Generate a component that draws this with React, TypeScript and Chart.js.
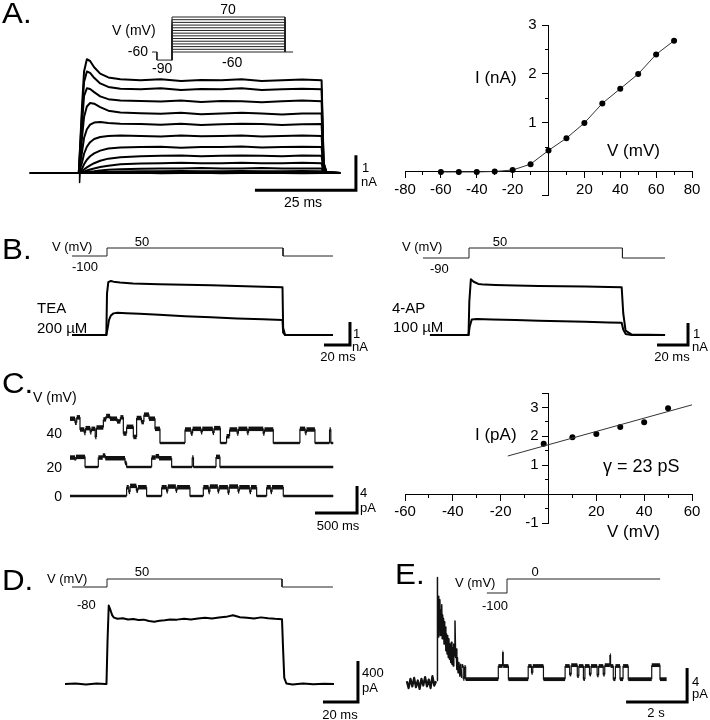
import React, { useEffect, useRef } from "react";
import { Chart, registerables } from "chart.js";

Chart.register(...registerables);
const FONT = "'Liberation Sans', Arial, Helvetica, sans-serif";
Chart.defaults.font.family = FONT;

// ======================= DATA =======================
// --- Panel A (left): current family, time (ms) vs current (nA), steps -60..70 mV
const A_T = [-12.4, -0.3, 0.5, 1, 1.7, 2.5, 3.5, 5, 7, 10, 15, 20, 25, 30, 35, 40, 45, 50, 55, 59.8, 60.3, 61, 64.4];
const A_I70 = [0, 0, 1.9, 2.9, 3.25, 3.2, 3.02, 2.84, 2.73, 2.68, 2.65, 2.68, 2.63, 2.66, 2.65, 2.68, 2.63, 2.65, 2.67, 2.65, 0.3, 0.03, 0];
const A_I60 = [0, 0, 1.7, 2.6, 2.9, 2.86, 2.72, 2.56, 2.46, 2.41, 2.39, 2.42, 2.37, 2.4, 2.39, 2.42, 2.37, 2.39, 2.41, 2.39, 0.28, 0.03, 0];
const A_I50 = [0, 0, 1.4, 2.2, 2.42, 2.4, 2.31, 2.19, 2.11, 2.07, 2.06, 2.04, 2.07, 2.03, 2.06, 2.05, 2.02, 2.05, 2.07, 2.05, 0.25, 0.02, 0];
const A_I40 = [0, 0, 1.0, 1.6, 1.9, 2.0, 1.98, 1.88, 1.78, 1.73, 1.71, 1.69, 1.72, 1.68, 1.7, 1.72, 1.7, 1.67, 1.7, 1.7, 0.2, 0.02, 0];
const A_I30 = [0, 0, 0.6, 1.0, 1.25, 1.38, 1.44, 1.46, 1.43, 1.41, 1.4, 1.38, 1.41, 1.37, 1.39, 1.41, 1.4, 1.37, 1.39, 1.4, 0.15, 0.02, 0];
const A_I20 = [0, 0, 0.3, 0.55, 0.75, 0.88, 0.97, 1.03, 1.06, 1.07, 1.06, 1.04, 1.07, 1.05, 1.06, 1.07, 1.04, 1.06, 1.07, 1.06, 0.1, 0.01, 0];
const A_I10 = [0, 0, 0.12, 0.25, 0.38, 0.48, 0.56, 0.64, 0.7, 0.73, 0.74, 0.75, 0.72, 0.74, 0.74, 0.76, 0.73, 0.74, 0.75, 0.74, 0.08, 0.01, 0];
const A_I0 = [0, 0, 0.05, 0.1, 0.16, 0.22, 0.28, 0.35, 0.41, 0.45, 0.48, 0.49, 0.5, 0.48, 0.49, 0.5, 0.49, 0.48, 0.5, 0.49, 0.05, 0, 0];
const A_IM10 = [0, 0, 0.02, 0.04, 0.07, 0.1, 0.13, 0.17, 0.21, 0.25, 0.27, 0.28, 0.29, 0.28, 0.28, 0.29, 0.28, 0.28, 0.29, 0.28, 0.03, 0, 0];
const A_IM20 = [0, 0, 0.01, 0.02, 0.03, 0.04, 0.05, 0.07, 0.09, 0.11, 0.12, 0.13, 0.13, 0.14, 0.13, 0.13, 0.14, 0.13, 0.13, 0.13, 0.02, 0, 0];
const A_IM30 = [0, 0, 0, 0.01, 0.01, 0.02, 0.02, 0.03, 0.03, 0.04, 0.05, 0.05, 0.06, 0.05, 0.05, 0.06, 0.05, 0.05, 0.06, 0.05, 0.01, 0, 0];
const A_IM40 = [0, 0, 0, 0, 0, 0, 0, 0.01, 0.01, 0.01, 0.02, 0.02, 0.02, 0.03, 0.02, 0.02, 0.02, 0.03, 0.02, 0.02, 0, 0, 0];
const A_IM50 = [0, 0, 0, 0, 0, 0, 0, 0, 0, 0, 0.01, -0.01, 0, 0.01, -0.01, 0, 0.01, 0, -0.01, 0, 0, 0, 0];
const A_TRACES = [A_I70, A_I60, A_I50, A_I40, A_I30, A_I20, A_I10, A_I0, A_IM10, A_IM20, A_IM30, A_IM40, A_IM50];
const A_ART_T = [-0.1, -0.1, 0.1];
const A_ART_I = [0, -0.27, 0.17];
// Panel A voltage protocol (ms, mV)
const A_STEP_MV = [-60, -50, -40, -30, -20, -10, 0, 10, 20, 30, 40, 50, 60, 70];
const A_PRE_T = [-10.6, -8, -8, 0];
const A_PRE_V = [-60, -60, -90, -90];
const A_STEP_MS = 60;
const A_PRE_MV = -90;
const A_HOLD_MV = -60;
const A_PROTO_END_MS = 64.3;

// --- Panel A (right): I-V relation (mV, nA)
const IVA_V = [-60, -50, -40, -30, -20, -10, 0, 10, 20, 30, 40, 50, 60, 70];
const IVA_I = [0, 0, 0, 0.01, 0.04, 0.16, 0.44, 0.69, 1.0, 1.4, 1.7, 2.0, 2.4, 2.68];

// --- Panel B (left): control and TEA 200 uM (ms, nA)
const B1_CTRL_T = [-26.9, -0.5, 0, 1, 3, 5, 10, 20, 40, 60, 80, 100, 120, 135, 135.5, 137, 150, 173.8];
const B1_CTRL_I = [0, 0, 1.8, 2.3, 2.35, 2.32, 2.28, 2.24, 2.21, 2.18, 2.16, 2.13, 2.1, 2.08, 0.3, 0, 0, 0];
const B1_TEA_T = [-26.9, -0.5, 0.5, 1.5, 3, 5, 8, 15, 25, 40, 60, 80, 100, 120, 135, 135.5, 137, 150, 173.8];
const B1_TEA_I = [0, 0, 0.3, 0.65, 0.85, 0.94, 0.97, 0.95, 0.92, 0.88, 0.82, 0.77, 0.72, 0.68, 0.65, 0.1, 0, 0, 0];
const B1_PROTO_T = [-26.9, 0, 0, 135.4, 135.4, 173.8];
const B1_PROTO_V = [-100, -100, 50, 50, -100, -100];

// --- Panel B (right): control and 4-AP 100 uM (ms, nA)
const B2_CTRL_T = [-25.2, -0.3, 0.2, 1.2, 3, 6, 10, 17, 30, 45, 60, 75, 90, 98.5, 99.5, 101, 105, 126.5];
const B2_CTRL_I = [0, 0, 1.5, 2.53, 2.42, 2.32, 2.29, 2.27, 2.25, 2.23, 2.22, 2.2, 2.18, 2.17, 1.0, 0.2, 0.02, 0];
const B2_AP_T = [-25.2, -0.3, 0.5, 1.8, 5, 15, 30, 45, 60, 75, 90, 98.5, 99.5, 101, 105, 126.5];
const B2_AP_I = [0, 0, 0.4, 0.71, 0.73, 0.71, 0.68, 0.65, 0.62, 0.6, 0.57, 0.56, 0.25, 0.05, 0, 0];
const B2_PROTO_T = [-29.7, 0, 0, 99, 99, 126.5];
const B2_PROTO_V = [-90, -90, 50, 50, -90, -90];

// --- Panel C (left): single-channel records, dwell starts (ms) and current level (pA)
const C40_T = [0, 60, 80, 119, 170, 185, 240, 255, 300, 315, 397, 430, 476, 560, 600, 635, 674, 754, 793, 850, 880, 940, 1012, 1071, 1369, 1440, 1460, 1560, 1575, 1700, 1715, 1790, 1864, 1900, 1990, 2005, 2110, 2125, 2300, 2315, 2420, 2737, 2800, 2815, 2916, 3090, 3105];
const C40_I = [3.6, 3.0, 3.8, 2.0, 1.5, 2.2, 1.6, 2.1, 0.9, 2.3, 3.5, 4.0, 3.6, 3.2, 3.8, 1.4, 2.4, 0.9, 3.7, 3.1, 4.2, 3.6, 2.1, 0, 2.0, 1.4, 2.1, 1.6, 2.1, 1.5, 2.2, 0, 1.0, 2.0, 1.4, 2.1, 1.5, 2.1, 1.4, 2.0, 0, 2.1, 1.5, 2.0, 0, 2.0, 0];
const C20_T = [0, 60, 70, 179, 337, 390, 420, 655, 674, 972, 1020, 1060, 1210, 1455, 1470, 1738, 1785];
const C20_I = [1.4, 1.0, 1.5, 0, 1.4, 1.7, 1.3, 0.6, 0, 1.4, 1.6, 1.3, 0, 1.4, 0, 1.5, 0];
const C0_T = [0, 674, 700, 715, 790, 810, 912, 1091, 1150, 1165, 1260, 1275, 1428, 1587, 1650, 1665, 1760, 1775, 1880, 1895, 2000, 2015, 2140, 2155, 2222, 2341, 2390, 2405, 2539];
const C0_I = [0, 1.3, 0.6, 1.5, 0.8, 1.3, 0, 1.3, 0.7, 1.4, 0.8, 1.3, 0, 1.3, 0.6, 1.4, 0.7, 1.3, 0.5, 1.4, 0.7, 1.3, 0.6, 1.3, 0, 1.3, 0.6, 1.3, 0];
const C_END_MS = 3134;

// --- Panel C (right): unitary I-V (mV, pA) and fit
const IVC_V = [-2, 10, 20, 30, 40, 50];
const IVC_I = [1.74, 1.97, 2.08, 2.32, 2.49, 2.97];
const IVC_FIT_V = [-17, 60];
const IVC_SLOPE = 0.023; // pA/mV  (23 pS)
const IVC_INTERCEPT = 1.71;

// --- Panel D: whole-cell current (ms, pA)
const D_T = [-24, -18, -12, -6, -1, -0.3, 0.3, 1, 2, 3, 4, 6, 9, 12, 15, 18, 21, 24, 27, 30, 33, 36, 40, 44, 48, 52, 56, 60, 64, 68, 72, 76, 80, 84, 88, 92, 96, 100, 100.6, 101.3, 102.5, 106, 112, 118, 124, 129.7];
const D_I = [0, 5, -5, 4, 0, 0, 420, 765, 720, 670, 648, 636, 642, 630, 634, 625, 628, 614, 608, 616, 622, 630, 628, 636, 630, 640, 646, 638, 648, 655, 670, 652, 646, 640, 650, 642, 636, 632, 350, 60, 5, -5, 4, -3, 3, 0];
const D_PROTO_T = [-20, 0, 0, 100, 100, 129.1];
const D_PROTO_V = [-80, -80, 50, 50, -80, -80];

// --- Panel E: cell-attached record (s, pA)
const E_PRE_T = [-0.99, -0.93, -0.87, -0.81, -0.75, -0.69, -0.63, -0.57, -0.51, -0.45, -0.39, -0.33, -0.27, -0.21, -0.15, -0.09, -0.03];
const E_PRE_I = [0.2, -0.6, 0.5, -0.4, 0.6, -0.5, 0.3, -0.7, 0.5, -0.3, 0.7, -0.4, 0.4, -0.6, 0.8, -0.3, 0.2];
const E_DECAY_T = [0, 0.01, 0.02, 0.035, 0.05, 0.065, 0.08, 0.095, 0.11, 0.125, 0.14, 0.155, 0.17, 0.185, 0.2, 0.215, 0.23, 0.245, 0.26, 0.275, 0.29, 0.31, 0.33, 0.35, 0.37, 0.39, 0.41, 0.43, 0.45, 0.47, 0.49, 0.51, 0.53, 0.55, 0.57, 0.59, 0.61, 0.63, 0.65, 0.67, 0.69, 0.72, 0.75, 0.78, 0.81];
const E_DECAY_I = [0.3, 12.4, 6.0, 10.2, 5.4, 9.0, 6.2, 9.8, 5.6, 8.6, 6.4, 9.2, 5.2, 8.0, 5.8, 7.6, 4.6, 7.2, 5.0, 6.6, 3.8, 5.8, 3.4, 5.6, 3.0, 5.2, 2.8, 4.6, 2.4, 4.8, 2.2, 4.2, 2.0, 4.6, 3.2, 7.3, 3.0, 4.0, 1.6, 3.0, 1.2, 2.4, 0.8, 2.2, 0.6];
const E_SEG_T = [0.81, 0.86, 0.9, 0.94, 2.01, 2.15, 2.17, 2.34, 2.99, 3.1, 3.14, 3.49, 4.2, 4.35, 4.4, 4.6, 4.65, 4.8, 4.85, 5.0, 5.05, 5.25, 5.3, 5.45, 5.5, 5.67, 5.69, 5.78, 5.85, 6.0, 6.1, 6.27, 7.04, 7.31];
const E_SEG_I = [2.0, 0.5, 1.9, 0.45, 2.0, 3.6, 2.0, 0.45, 2.0, 1.2, 2.0, 0.45, 2.0, 1.0, 2.1, 0.8, 2.0, 0.45, 2.0, 1.0, 2.0, 0.9, 2.0, 1.0, 2.1, 3.3, 2.0, 0.45, 2.0, 0.45, 2.0, 0.45, 2.1, 0.45];
const E_END_S = 7.53;
const E_PROTO_T = [-0.66, 0, 0, 5.02];
const E_PROTO_V = [-100, -100, 0, 0];

// Scale bars (units)
const SB_A = { x: 25, y: 1 };
const SB_B1 = { x: 20, y: 1 };
const SB_B2 = { x: 20, y: 1 };
const SB_C = { x: 500, y: 4 };
const SB_D = { x: 20, y: 400 };
const SB_E = { x: 2, y: 4 };

// ======================= LAYOUT =======================
type Ax = { px: number; v: number; ppu: number };
type Geo = { left: number; top: number; w: number; h: number; axes: Record<string, Ax> };

const G_A: Geo = { left: 0, top: 0, w: 380, h: 215, axes: { x: { px: 80, v: 0, ppu: 4.04 }, y: { px: 173, v: 0, ppu: 35 }, xp: { px: 172, v: 0, ppu: 1.883 }, yv: { px: 52, v: -60, ppu: 0.2692 } } };
const G_B1: Geo = { left: 0, top: 220, w: 360, h: 145, axes: { x: { px: 107, v: 0, ppu: 1.3 }, y: { px: 115, v: 0, ppu: 23 }, yv: { px: 36, v: -100, ppu: 0.0533 } } };
const G_B2: Geo = { left: 355, top: 220, w: 355, h: 145, axes: { x: { px: 114, v: 0, ppu: 1.55 }, y: { px: 115, v: 0, ppu: 22 }, yv: { px: 38, v: -90, ppu: 0.0714 } } };
const G_C: Geo = { left: 0, top: 365, w: 380, h: 170, axes: { x: { px: 70, v: 0, ppu: 0.084 }, y40: { px: 78, v: 0, ppu: 6.75 }, y20: { px: 102, v: 0, ppu: 6.75 }, y0: { px: 131, v: 0, ppu: 6.75 } } };
const G_D: Geo = { left: 0, top: 540, w: 380, h: 180, axes: { x: { px: 107, v: 0, ppu: 1.75 }, y: { px: 144, v: 0, ppu: 0.1025 }, yv: { px: 47, v: -80, ppu: 0.0615 } } };
const G_E: Geo = { left: 380, top: 540, w: 330, h: 180, axes: { x: { px: 57, v: 0, ppu: 30.5 }, xp: { px: 127, v: 0, ppu: 30.5 }, y: { px: 143, v: 0, ppu: 8.5 }, yv: { px: 53, v: -100, ppu: 0.14 } } };

// I-V panels: canvas box, padding around plot area, gap between y axis and its labels (px)
const IV_A_BOX = { left: 380, top: 0, w: 330, h: 215, pad: { left: 25, right: 18, top: 25, bottom: 20 }, labelGap: 12 };
const IV_C_BOX = { left: 380, top: 365, w: 330, h: 175, pad: { left: 25, right: 18, top: 28, bottom: 17 }, labelGap: 10 };

// scale-bar corners (data units of each panel)
const SBC_A = { x: 68.3, y: -0.49 };
const SBC_B1 = { x: 186.9, y: -0.435 };
const SBC_B2 = { x: 141.3, y: -0.455 };
const SBC_C = { x: 3417, y: -2.52 };
const SBC_D = { x: 143.4, y: -175.6 };
const SBC_E = { x: 8.2, y: -2.24 };

// ======================= HELPERS =======================
function scalesFor(g: Geo) {
  const sc: any = {};
  Object.keys(g.axes).forEach((k) => {
    const a = g.axes[k];
    const horiz = k.startsWith("x");
    const size = horiz ? g.w : g.h;
    const min = horiz ? a.v - a.px / a.ppu : a.v - (size - a.px) / a.ppu;
    const max = horiz ? a.v + (size - a.px) / a.ppu : a.v + a.px / a.ppu;
    sc[k] = { type: "linear", axis: horiz ? "x" : "y", min, max, display: false, bounds: "data" };
  });
  return sc;
}

function ds(xs: number[], ys: number[], xID: string, yID: string, style: any = {}) {
  return {
    data: xs.map((x, i) => ({ x, y: ys[i] })),
    xAxisID: xID,
    yAxisID: yID,
    borderColor: "#000",
    borderWidth: 1.5,
    pointRadius: 0,
    tension: 0,
    fill: false,
    borderJoinStyle: "round",
    ...style,
  };
}

function steps(starts: number[], levels: number[], end: number) {
  const xs: number[] = [];
  const ys: number[] = [];
  starts.forEach((s, i) => {
    const e = i < starts.length - 1 ? starts[i + 1] : end;
    xs.push(s, e);
    ys.push(levels[i], levels[i]);
  });
  return { xs, ys };
}

function scaleBar(c: { x: number; y: number }, sb: { x: number; y: number }, xID: string, yID: string) {
  return ds([c.x - sb.x, c.x, c.x], [c.y, c.y, c.y + sb.y], xID, yID, { borderWidth: 3, borderJoinStyle: "miter", borderCapStyle: "butt" });
}

const baseOptions = {
  animation: false,
  responsive: false,
  maintainAspectRatio: false,
  devicePixelRatio: 1,
  events: [],
  plugins: { legend: { display: false }, tooltip: { enabled: false } },
};

function traceConfig(g: Geo, datasets: any[]) {
  return { type: "line", data: { datasets }, options: { ...baseOptions, layout: { padding: 0 }, scales: scalesFor(g) } };
}

const ivLabel = (v: number) => (Number.isInteger(v) && v !== 0 ? String(v) : "");

// draws the y tick labels of the crossing y axis, left of the axis line
function yLabelPlugin(gap: number) {
  return {
    id: "yAxisLabels",
    afterDraw(chart: any) {
      const xs = chart.scales.x;
      const ys = chart.scales.yMaj;
      const ctx = chart.ctx;
      const x0 = xs.getPixelForValue(0) - gap;
      ctx.save();
      ctx.font = `15px ${FONT}`;
      ctx.fillStyle = "#000";
      ctx.textAlign = "right";
      ctx.textBaseline = "middle";
      ys.ticks.forEach((t: any) => {
        const s = ivLabel(t.value);
        if (s) ctx.fillText(s, x0, ys.getPixelForValue(t.value));
      });
      ctx.restore();
    },
  };
}

function ivConfig(
  box: typeof IV_A_BOX,
  r: { xMin: number; xMax: number; yMin: number; yMax: number; xMinor: number; xMajor: number; yMinor: number; yMajor: number },
  datasets: any[]
) {
  const tickFont = { family: FONT, size: 15 };
  const common = { type: "linear", bounds: "ticks", border: { display: true, color: "#000", width: 1 } };
  return {
    type: "line",
    data: { datasets },
    plugins: [yLabelPlugin(box.labelGap)],
    options: {
      ...baseOptions,
      layout: { padding: box.pad },
      scales: {
        x: { ...common, axis: "x", min: r.xMin, max: r.xMax, position: { y: 0 }, ticks: { display: false, stepSize: r.xMinor, autoSkip: false }, grid: { drawOnChartArea: false, tickLength: 3, tickColor: "#000", tickWidth: 1 } },
        xMaj: { ...common, axis: "x", min: r.xMin, max: r.xMax, position: { y: 0 }, ticks: { stepSize: r.xMajor, autoSkip: false, maxRotation: 0, minRotation: 0, padding: 3, color: "#000", font: tickFont, callback: ivLabel }, grid: { drawOnChartArea: false, tickLength: 6, tickColor: "#000", tickWidth: 1 } },
        y: { ...common, axis: "y", min: r.yMin, max: r.yMax, position: { x: 0 }, ticks: { display: false, stepSize: r.yMinor, autoSkip: false }, grid: { drawOnChartArea: false, tickLength: 3, tickColor: "#000", tickWidth: 1 } },
        yMaj: { ...common, axis: "y", min: r.yMin, max: r.yMax, position: { x: 0 }, ticks: { display: false, stepSize: r.yMajor, autoSkip: false }, grid: { drawOnChartArea: false, tickLength: 6, tickColor: "#000", tickWidth: 1 } },
      },
    },
  };
}

const PROTO = { borderColor: "#222", borderWidth: 1, borderJoinStyle: "miter" };

// ======================= CONFIGS =======================
function makeA() {
  const d: any[] = [];
  d.push(ds(A_PRE_T, A_PRE_V, "xp", "yv", PROTO));
  A_STEP_MV.forEach((v) => d.push(ds([0, 0, A_STEP_MS, A_STEP_MS], [A_PRE_MV, v, v, A_HOLD_MV], "xp", "yv", PROTO)));
  d.push(ds([A_STEP_MS, A_PROTO_END_MS], [A_HOLD_MV, A_HOLD_MV], "xp", "yv", PROTO));
  A_TRACES.forEach((tr) => d.push(ds(A_T, tr, "x", "y", { borderWidth: 2 })));
  d.push(ds(A_ART_T, A_ART_I, "x", "y", { borderWidth: 1.5 }));
  d.push(scaleBar(SBC_A, SB_A, "x", "y"));
  return traceConfig(G_A, d);
}

function makeIVA() {
  return ivConfig(
    IV_A_BOX,
    { xMin: -80, xMax: 80, yMin: -0.47, yMax: 3, xMinor: 10, xMajor: 20, yMinor: 0.5, yMajor: 1 },
    [ds(IVA_V, IVA_I, "x", "y", { borderColor: "#333", borderWidth: 1, pointRadius: 3, pointBackgroundColor: "#000", pointBorderWidth: 0 })]
  );
}

function makeB1() {
  return traceConfig(G_B1, [
    ds(B1_PROTO_T, B1_PROTO_V, "x", "yv", PROTO),
    ds(B1_CTRL_T, B1_CTRL_I, "x", "y", { borderWidth: 2 }),
    ds(B1_TEA_T, B1_TEA_I, "x", "y", { borderWidth: 2 }),
    scaleBar(SBC_B1, SB_B1, "x", "y"),
  ]);
}

function makeB2() {
  return traceConfig(G_B2, [
    ds(B2_PROTO_T, B2_PROTO_V, "x", "yv", PROTO),
    ds(B2_CTRL_T, B2_CTRL_I, "x", "y", { borderWidth: 2 }),
    ds(B2_AP_T, B2_AP_I, "x", "y", { borderWidth: 2 }),
    scaleBar(SBC_B2, SB_B2, "x", "y"),
  ]);
}

function channelDs(t: number[], lv: number[], yID: string) {
  const s = steps(t, lv, C_END_MS);
  return ds(s.xs, s.ys, "x", yID, {
    borderWidth: 2,
    borderColor: "#111",
    borderJoinStyle: "round",
    borderCapStyle: "butt",
    segment: {
      borderWidth: (ctx: any) => {
        const a = ctx.p0.parsed.y;
        const b = ctx.p1.parsed.y;
        if (a !== b) return 1.2;
        return a > 0.3 ? 4.5 : 2.4;
      },
    },
  });
}

function makeC() {
  return traceConfig(G_C, [
    channelDs(C40_T, C40_I, "y40"),
    channelDs(C20_T, C20_I, "y20"),
    channelDs(C0_T, C0_I, "y0"),
    scaleBar(SBC_C, SB_C, "x", "y0"),
  ]);
}

function makeIVC() {
  const fitI = IVC_FIT_V.map((v) => IVC_INTERCEPT + IVC_SLOPE * v);
  return ivConfig(
    IV_C_BOX,
    { xMin: -60, xMax: 60, yMin: -1, yMax: 3.5, xMinor: 10, xMajor: 20, yMinor: 0.5, yMajor: 1 },
    [
      ds(IVC_FIT_V, fitI, "x", "y", { borderColor: "#333", borderWidth: 1 }),
      ds(IVC_V, IVC_I, "x", "y", { showLine: false, pointRadius: 3, pointBackgroundColor: "#000", pointBorderWidth: 0 }),
    ]
  );
}

function makeD() {
  return traceConfig(G_D, [
    ds(D_PROTO_T, D_PROTO_V, "x", "yv", PROTO),
    ds(D_T, D_I, "x", "y", { borderWidth: 2 }),
    scaleBar(SBC_D, SB_D, "x", "y"),
  ]);
}

function makeE() {
  const s = steps(E_SEG_T, E_SEG_I, E_END_S);
  return traceConfig(G_E, [
    ds(E_PROTO_T, E_PROTO_V, "xp", "yv", PROTO),
    ds(E_PRE_T, E_PRE_I, "x", "y", { borderWidth: 2.2, borderColor: "#111" }),
    ds(E_DECAY_T, E_DECAY_I, "x", "y", { borderWidth: 1.5, borderColor: "#111" }),
    ds(s.xs, s.ys, "x", "y", {
      borderWidth: 3,
      borderColor: "#111",
      borderJoinStyle: "round",
      segment: { borderWidth: (ctx: any) => (ctx.p0.parsed.y !== ctx.p1.parsed.y ? 1.2 : 3.8) },
    }),
    scaleBar(SBC_E, SB_E, "x", "y"),
  ]);
}

// ======================= TEXT =======================
type L = { t: string; x: number; y: number; s: number; a?: "l" | "c" | "r"; sx?: number };
const LABELS: L[] = [
  { t: "A.", x: 2, y: 13, s: 29, sx: 1.08 },
  { t: "V (mV)", x: 112, y: 30, s: 14 },
  { t: "70", x: 228, y: 9, s: 14, a: "c" },
  { t: "-60", x: 148, y: 51, s: 14, a: "r" },
  { t: "-90", x: 152, y: 68, s: 14 },
  { t: "-60", x: 222, y: 62, s: 14 },
  { t: "1", x: 362, y: 167, s: 13 },
  { t: "nA", x: 361, y: 181, s: 13 },
  { t: "25 ms", x: 303, y: 202, s: 14, a: "c" },
  { t: "I (nA)", x: 475, y: 77, s: 17 },
  { t: "V (mV)", x: 607, y: 150, s: 17 },

  { t: "B.", x: 2, y: 249, s: 29, sx: 1.08 },
  { t: "V (mV)", x: 52, y: 246, s: 13 },
  { t: "50", x: 142, y: 241, s: 13, a: "c" },
  { t: "-100", x: 72, y: 266, s: 13 },
  { t: "TEA", x: 37, y: 307, s: 15 },
  { t: "200 µM", x: 37, y: 327, s: 15 },
  { t: "1", x: 353, y: 333, s: 13 },
  { t: "nA", x: 352, y: 346, s: 13 },
  { t: "20 ms", x: 338, y: 356, s: 13, a: "c" },
  { t: "V (mV)", x: 402, y: 246, s: 13 },
  { t: "50", x: 500, y: 241, s: 13, a: "c" },
  { t: "-90", x: 430, y: 268, s: 13 },
  { t: "4-AP", x: 392, y: 307, s: 15 },
  { t: "100 µM", x: 393, y: 326, s: 15 },
  { t: "1", x: 693, y: 333, s: 13 },
  { t: "nA", x: 692, y: 346, s: 13 },
  { t: "20 ms", x: 672, y: 356, s: 13, a: "c" },

  { t: "C.", x: 2, y: 383, s: 29, sx: 1.08 },
  { t: "V (mV)", x: 33, y: 397, s: 14 },
  { t: "40", x: 62, y: 433, s: 14, a: "r" },
  { t: "20", x: 62, y: 467, s: 14, a: "r" },
  { t: "0", x: 62, y: 496, s: 14, a: "r" },
  { t: "4", x: 360, y: 492, s: 13 },
  { t: "pA", x: 360, y: 507, s: 13 },
  { t: "500 ms", x: 338, y: 525, s: 13, a: "c" },
  { t: "I (pA)", x: 475, y: 434, s: 17 },
  { t: "γ = 23 pS", x: 603, y: 466, s: 18 },
  { t: "V (mV)", x: 607, y: 531, s: 17 },

  { t: "D.", x: 2, y: 580, s: 29, sx: 1.08 },
  { t: "V (mV)", x: 47, y: 578, s: 13 },
  { t: "50", x: 142, y: 571, s: 13, a: "c" },
  { t: "-80", x: 77, y: 604, s: 13 },
  { t: "400", x: 362, y: 672, s: 13 },
  { t: "pA", x: 362, y: 687, s: 13 },
  { t: "20 ms", x: 340, y: 714, s: 13, a: "c" },

  { t: "E.", x: 395, y: 574, s: 29, sx: 1.08 },
  { t: "V (mV)", x: 455, y: 582, s: 13 },
  { t: "0", x: 535, y: 571, s: 13, a: "c" },
  { t: "-100", x: 482, y: 605, s: 13 },
  { t: "4", x: 692, y: 681, s: 13 },
  { t: "pA", x: 692, y: 693, s: 13 },
  { t: "2 s", x: 656, y: 712, s: 13, a: "c" },
];

function Label({ t, x, y, s, a = "l", sx = 1 }: L) {
  const tx = a === "l" ? "0%" : a === "c" ? "-50%" : "-100%";
  const origin = a === "l" ? "left center" : a === "c" ? "center center" : "right center";
  return (
    <div
      style={{
        position: "absolute",
        left: x,
        top: y,
        fontFamily: FONT,
        fontSize: s,
        lineHeight: `${s}px`,
        whiteSpace: "nowrap",
        color: "#000",
        transformOrigin: origin,
        transform: `translate(${tx}, -50%) scaleX(${sx})`,
      }}
    >
      {t}
    </div>
  );
}

function ChartCanvas({ left, top, w, h, make }: { left: number; top: number; w: number; h: number; make: () => any }) {
  const ref = useRef<HTMLCanvasElement>(null);
  useEffect(() => {
    if (!ref.current) return;
    const chart = new Chart(ref.current, make());
    return () => chart.destroy();
  }, []);
  return <canvas ref={ref} width={w} height={h} style={{ position: "absolute", left, top, width: w, height: h }} />;
}

export default function App() {
  return (
    <div style={{ position: "absolute", left: 0, top: 0, width: 710, height: 720, background: "#fff", overflow: "hidden" }}>
      <ChartCanvas left={G_A.left} top={G_A.top} w={G_A.w} h={G_A.h} make={makeA} />
      <ChartCanvas left={IV_A_BOX.left} top={IV_A_BOX.top} w={IV_A_BOX.w} h={IV_A_BOX.h} make={makeIVA} />
      <ChartCanvas left={G_B1.left} top={G_B1.top} w={G_B1.w} h={G_B1.h} make={makeB1} />
      <ChartCanvas left={G_B2.left} top={G_B2.top} w={G_B2.w} h={G_B2.h} make={makeB2} />
      <ChartCanvas left={G_C.left} top={G_C.top} w={G_C.w} h={G_C.h} make={makeC} />
      <ChartCanvas left={IV_C_BOX.left} top={IV_C_BOX.top} w={IV_C_BOX.w} h={IV_C_BOX.h} make={makeIVC} />
      <ChartCanvas left={G_D.left} top={G_D.top} w={G_D.w} h={G_D.h} make={makeD} />
      <ChartCanvas left={G_E.left} top={G_E.top} w={G_E.w} h={G_E.h} make={makeE} />
      {LABELS.map((l, i) => (
        <Label key={i} {...l} />
      ))}
    </div>
  );
}
